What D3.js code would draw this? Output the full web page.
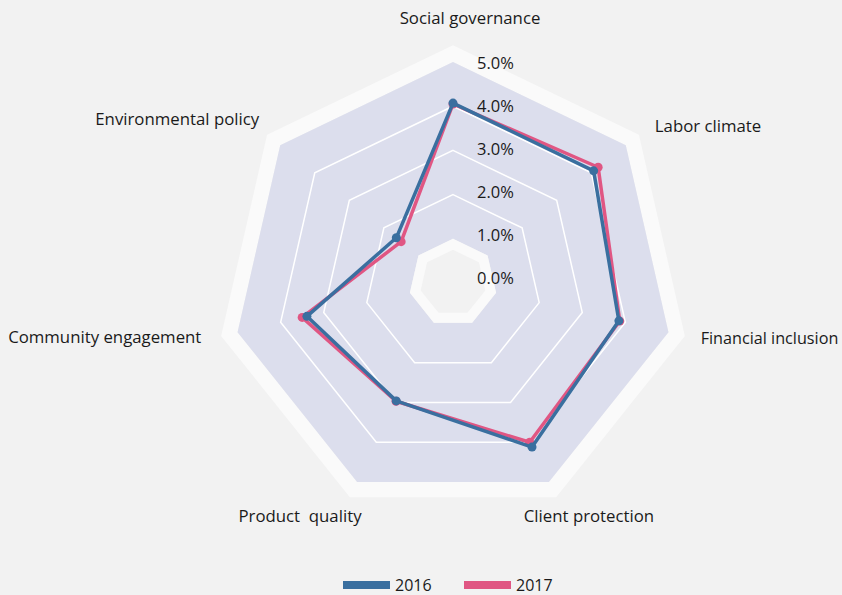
<!DOCTYPE html>
<html>
<head>
<meta charset="utf-8">
<script src="https://cdn.jsdelivr.net/npm/d3@7/dist/d3.min.js"></script>
<style>
  html, body { margin: 0; padding: 0; background: #f2f2f2; }
  svg { display: block; }
  text { font-family: "Open Sans", "Noto Sans", sans-serif; fill: #1a1a1a; }
</style>
</head>
<body>
<svg id="chart" width="842" height="595"></svg>
<script>
// Scores per dimension, in percent
const categories = ["Social governance", "Labor climate", "Financial inclusion", "Client protection",
                    "Product  quality", "Community engagement", "Environmental policy"];
const values2016 = [4.07, 4.07, 3.85, 4.12, 2.96, 3.39, 1.64];
const values2017 = [4.05, 4.20, 3.87, 4.00, 2.97, 3.50, 1.50];
const tickValues = [0, 1, 2, 3, 4, 5];
const tickLabels = ["0.0%", "1.0%", "2.0%", "3.0%", "4.0%", "5.0%"];
const seriesNames = ["2016", "2017"];

const cx = 453, cy = 283;
const n = categories.length;
const step = 2 * Math.PI / n;

const svg = d3.select("#chart");
const g = svg.append("g").attr("transform", `translate(${cx},${cy})`);

const r = d3.scaleLinear().domain([0, 5]).range([0, 221]);

const ring = v => d3.lineRadial()
  .angle((d, i) => i * step)
  .radius(() => r(v))
  .curve(d3.curveLinearClosed)(d3.range(n));

// Pane: pale outer rim, tinted plot area, pale inner rim
g.append("path").attr("d", ring(5.38) + ring(5)).attr("fill", "#fafafa").attr("fill-rule", "evenodd");
g.append("path").attr("d", ring(5) + ring(1)).attr("fill", "#dcdeed").attr("fill-rule", "evenodd");
g.append("path").attr("d", ring(1) + ring(0.75)).attr("fill", "#fafafa").attr("fill-rule", "evenodd");

// Interior grid rings
g.selectAll("path.grid").data([2, 3, 4]).join("path")
  .attr("class", "grid")
  .attr("d", d => ring(d))
  .attr("fill", "none")
  .attr("stroke", "#ffffff")
  .attr("stroke-width", 1.5);

// Radial tick labels along the top spoke
const tickY = d3.scaleLinear().domain([0, 5]).range([-6, -221]);
g.selectAll("text.tick").data(tickValues).join("text")
  .attr("class", "tick")
  .attr("x", 24)
  .attr("y", d => tickY(d))
  .attr("dominant-baseline", "central")
  .attr("font-size", 16.5)
  .text((d, i) => tickLabels[i]);

// Series
const colors = { "2016": "#3a6f9f", "2017": "#e05683" };
const line = d3.lineRadial()
  .angle((d, i) => i * step)
  .radius(d => r(d))
  .curve(d3.curveLinearClosed);

const series = [
  { name: "2017", values: values2017 },
  { name: "2016", values: values2016 }
];

series.forEach(s => {
  const sg = g.append("g");
  sg.append("path")
    .attr("d", line(s.values))
    .attr("fill", "none")
    .attr("stroke", colors[s.name])
    .attr("stroke-width", 3.5)
    .attr("stroke-linejoin", "round");
  sg.selectAll("circle").data(s.values).join("circle")
    .attr("cx", (d, i) => r(d) * Math.sin(i * step))
    .attr("cy", (d, i) => -r(d) * Math.cos(i * step))
    .attr("r", 4.5)
    .attr("fill", colors[s.name]);
});

// Category labels around the pane
const labelLayout = [
  { anchor: "middle", dx: 17, dy: -7 },
  { anchor: "start", dx: 0, dy: 3 },
  { anchor: "start", dx: -4, dy: -2 },
  { anchor: "middle", dx: 24, dy: 0 },
  { anchor: "middle", dx: -41, dy: 0 },
  { anchor: "end", dx: 0, dy: -4 },
  { anchor: "end", dx: 8, dy: -4 }
];
const rLabel = r(5.84);
g.selectAll("text.cat").data(categories).join("text")
  .attr("class", "cat")
  .attr("x", (d, i) => rLabel * Math.sin(i * step) + labelLayout[i].dx)
  .attr("y", (d, i) => -rLabel * Math.cos(i * step) + labelLayout[i].dy)
  .attr("text-anchor", (d, i) => labelLayout[i].anchor)
  .attr("dominant-baseline", "central")
  .attr("font-size", (d, i) => i === 2 ? 16.2 : 16.8)
  .style("white-space", "pre")
  .text(d => d);

// Legend
const legend = svg.append("g").attr("transform", "translate(343,585)");
seriesNames.forEach((name, i) => {
  const lg = legend.append("g").attr("transform", `translate(${i * 121},0)`);
  lg.append("rect").attr("x", 0).attr("y", -4).attr("width", 47).attr("height", 8)
    .attr("fill", colors[name]);
  lg.append("text").attr("x", 52).attr("y", 0)
    .attr("dominant-baseline", "central")
    .attr("font-size", 16)
    .text(name);
});
</script>
</body>
</html>
